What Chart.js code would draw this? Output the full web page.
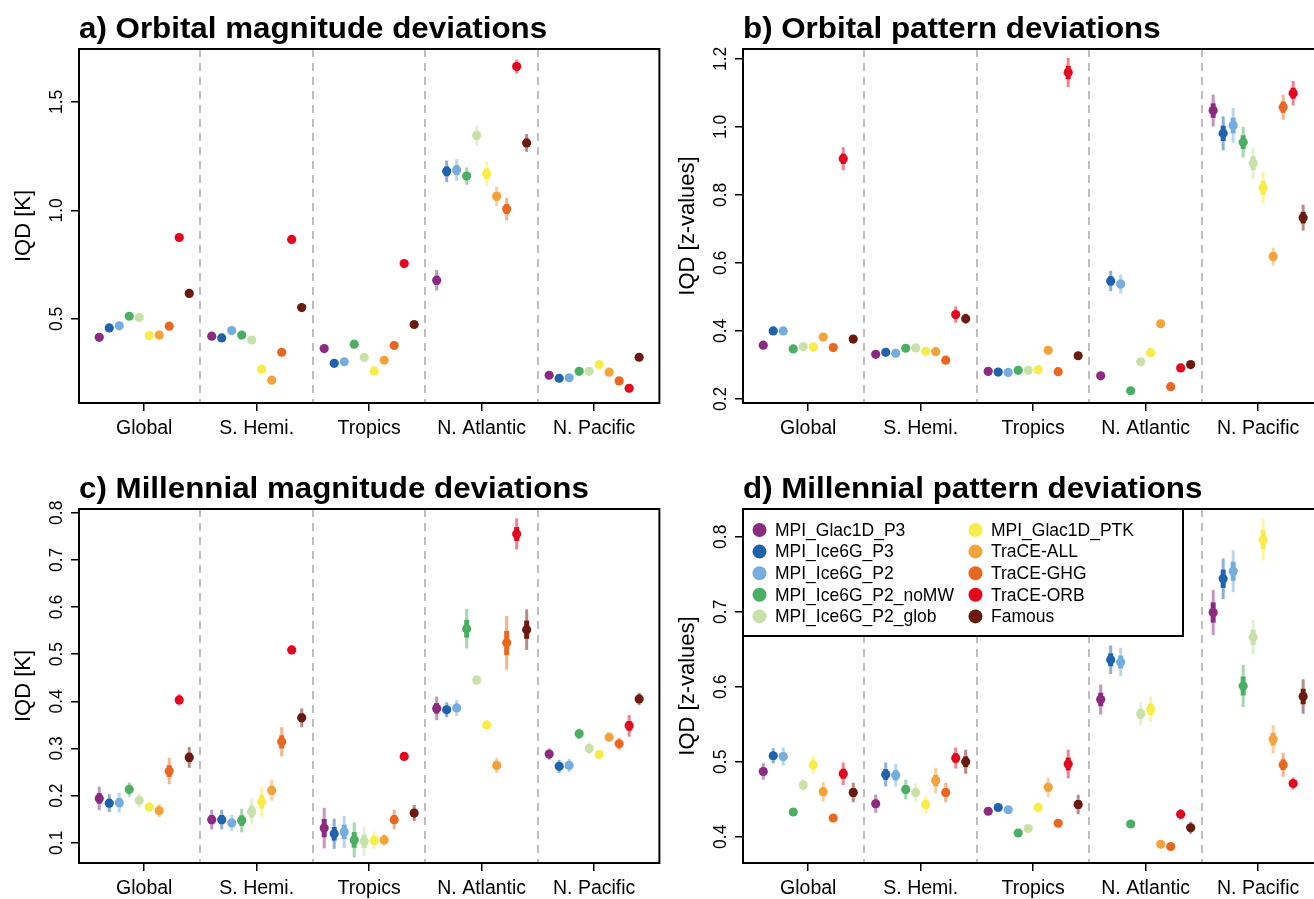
<!DOCTYPE html>
<html>
<head>
<meta charset="utf-8">
<title>IQD deviations</title>
<script src="https://cdn.jsdelivr.net/npm/chart.js@4.4.0/dist/chart.umd.min.js"></script>
<style>
    html, body { margin: 0; padding: 0; background: #fff; width: 1314px; height: 899px; overflow: hidden; }
    .panel { position: absolute; width: 664px; height: 440px; }
</style>
</head>
<body>
<div class="panel" style="left:0;top:0"><canvas id="panelA" width="664" height="440"></canvas></div>
<div class="panel" style="left:664px;top:0"><canvas id="panelB" width="664" height="440"></canvas></div>
<div class="panel" style="left:0;top:460px"><canvas id="panelC" width="664" height="440"></canvas></div>
<div class="panel" style="left:664px;top:460px"><canvas id="panelD" width="664" height="440"></canvas></div>

<script>
const regions = ['Global', 'S. Hemi.', 'Tropics', 'N. Atlantic', 'N. Pacific'];
const models = ['MPI_Glac1D_P3', 'MPI_Ice6G_P3', 'MPI_Ice6G_P2', 'MPI_Ice6G_P2_noMW', 'MPI_Ice6G_P2_glob',
                'MPI_Glac1D_PTK', 'TraCE-ALL', 'TraCE-GHG', 'TraCE-ORB', 'Famous'];
const modelColors = ['#8b2a80', '#1f62ae', '#76addf', '#4aaf62', '#c8e1a9',
                     '#f7ec48', '#f5a23b', '#ea6720', '#e2071d', '#6b1a10'];

// rows = models, columns = regions (Global, S. Hemi., Tropics, N. Atlantic, N. Pacific)
const orbitalMagnitude = [
    [0.415, 0.420, 0.363, 0.678, 0.240],
    [0.458, 0.412, 0.295, 1.180, 0.226],
    [0.468, 0.446, 0.302, 1.186, 0.228],
    [0.512, 0.425, 0.383, 1.158, 0.258],
    [0.506, 0.402, 0.322, 1.345, 0.258],
    [0.423, 0.268, 0.260, 1.169, 0.289],
    [0.425, 0.217, 0.309, 1.065, 0.254],
    [0.466, 0.346, 0.377, 1.006, 0.214],
    [0.875, 0.866, 0.755, 1.663, 0.180],
    [0.617, 0.552, 0.474, 1.311, 0.323]
];
const orbitalMagnitudeSpread = [
    [0, 0, 0, 0.047, 0],
    [0, 0, 0, 0.050, 0],
    [0, 0, 0, 0.050, 0],
    [0, 0, 0, 0.040, 0],
    [0, 0, 0, 0.044, 0],
    [0, 0, 0, 0.056, 0],
    [0, 0, 0, 0.045, 0],
    [0, 0, 0, 0.052, 0],
    [0, 0, 0, 0.032, 0],
    [0, 0, 0, 0.041, 0]
];

const orbitalPattern = [
    [0.358, 0.331, 0.281, 0.268, 1.048],
    [0.400, 0.337, 0.279, 0.547, 0.981],
    [0.400, 0.334, 0.278, 0.538, 1.004],
    [0.347, 0.349, 0.284, 0.224, 0.955],
    [0.354, 0.350, 0.284, 0.309, 0.893],
    [0.353, 0.340, 0.286, 0.336, 0.821],
    [0.382, 0.339, 0.343, 0.421, 0.619],
    [0.351, 0.314, 0.280, 0.236, 1.058],
    [0.906, 0.448, 1.160, 0.291, 1.099],
    [0.376, 0.436, 0.327, 0.301, 0.733]
];
const orbitalPatternSpread = [
    [0.005, 0, 0, 0, 0.047],
    [0.011, 0.006, 0, 0.030, 0.050],
    [0.011, 0.006, 0, 0.028, 0.051],
    [0, 0.006, 0, 0, 0.045],
    [0, 0.006, 0, 0, 0.046],
    [0, 0, 0, 0, 0.046],
    [0, 0, 0, 0.012, 0.026],
    [0, 0, 0, 0, 0.037],
    [0.034, 0.024, 0.043, 0.010, 0.036],
    [0, 0.015, 0, 0, 0.038]
];

const millennialMagnitude = [
    [0.194, 0.149, 0.131, 0.385, 0.288],
    [0.184, 0.149, 0.119, 0.382, 0.262],
    [0.185, 0.142, 0.123, 0.386, 0.264],
    [0.213, 0.147, 0.106, 0.554, 0.331],
    [0.190, 0.166, 0.103, 0.445, 0.300],
    [0.176, 0.187, 0.105, 0.350, 0.287],
    [0.168, 0.211, 0.106, 0.264, 0.324],
    [0.252, 0.314, 0.149, 0.524, 0.310],
    [0.403, 0.509, 0.283, 0.755, 0.348],
    [0.281, 0.365, 0.163, 0.552, 0.405]
];
const millennialMagnitudeSpread = [
    [0.025, 0.021, 0.043, 0.025, 0.012],
    [0.019, 0.021, 0.032, 0.016, 0.014],
    [0.021, 0.017, 0.034, 0.017, 0.014],
    [0.015, 0.025, 0.037, 0.042, 0.011],
    [0.015, 0.028, 0.031, 0.011, 0.012],
    [0.010, 0.032, 0.019, 0, 0.005],
    [0.014, 0.022, 0.012, 0.016, 0.005],
    [0.028, 0.031, 0.021, 0.057, 0.013],
    [0.012, 0, 0, 0.033, 0.023],
    [0.022, 0.020, 0.017, 0.043, 0.013]
];

const millennialPattern = [
    [0.487, 0.444, 0.434, 0.583, 0.699],
    [0.508, 0.483, 0.439, 0.636, 0.744],
    [0.507, 0.482, 0.436, 0.633, 0.754],
    [0.433, 0.463, 0.405, 0.417, 0.601],
    [0.469, 0.459, 0.411, 0.564, 0.666],
    [0.496, 0.443, 0.439, 0.570, 0.796],
    [0.460, 0.475, 0.466, 0.390, 0.530],
    [0.425, 0.459, 0.418, 0.387, 0.496],
    [0.484, 0.505, 0.497, 0.430, 0.471],
    [0.459, 0.500, 0.443, 0.412, 0.587]
];
const millennialPatternSpread = [
    [0.011, 0.012, 0.004, 0.020, 0.030],
    [0.010, 0.016, 0.004, 0.019, 0.027],
    [0.012, 0.015, 0.003, 0.019, 0.028],
    [0.003, 0.013, 0.002, 0.003, 0.028],
    [0.008, 0.012, 0.002, 0.015, 0.023],
    [0.012, 0.012, 0.007, 0.017, 0.028],
    [0.013, 0.017, 0.013, 0.004, 0.019],
    [0.004, 0.013, 0.005, 0.003, 0.016],
    [0.015, 0.014, 0.019, 0.007, 0.008],
    [0.013, 0.016, 0.013, 0.008, 0.023]
];

const orbitalMagnitudeTicks = [0.5, 1.0, 1.5];
const orbitalPatternTicks = [0.2, 0.4, 0.6, 0.8, 1.0, 1.2];
const millennialMagnitudeTicks = [0.1, 0.2, 0.3, 0.4, 0.5, 0.6, 0.7, 0.8];
const millennialPatternTicks = [0.4, 0.5, 0.6, 0.7, 0.8];

const FONT = "'Liberation Sans', Arial, Helvetica, sans-serif";

function withAlpha(hex, alpha) {
    const n = parseInt(hex.slice(1), 16);
    return `rgba(${(n >> 16) & 255}, ${(n >> 8) & 255}, ${n & 255}, ${alpha})`;
}

/**
 * R-style decorations: dashed region separators, error bars,
 * plot box, rotated y tick labels, panel title and optional legend
 */
const rStylePlugin = {
    id: 'rStyle',
    beforeDatasetsDraw(chart, args, opts) {
        const { ctx, chartArea: a, scales: { x, y } } = chart;
        ctx.save();

        // dashed separators between regions
        ctx.strokeStyle = '#bebebe';
        ctx.lineWidth = 2;
        ctx.setLineDash([8, 6]);
        for (let i = 1; i < regions.length; i++) {
            const px = Math.round(x.getPixelForValue(i + 0.5));
            ctx.beginPath();
            ctx.moveTo(px, a.top);
            ctx.lineTo(px, a.bottom);
            ctx.stroke();
        }
        ctx.setLineDash([]);

        // error bars: light outer range, darker inner range
        chart.data.datasets.forEach((ds, m) => {
            ds.data.forEach(pt => {
                if (!pt.spread) return;
                const px = x.getPixelForValue(pt.x);
                ctx.strokeStyle = withAlpha(modelColors[m], 0.5);
                ctx.lineWidth = 3;
                ctx.beginPath();
                ctx.moveTo(px, y.getPixelForValue(pt.y - pt.spread));
                ctx.lineTo(px, y.getPixelForValue(pt.y + pt.spread));
                ctx.stroke();
                ctx.strokeStyle = modelColors[m];
                ctx.lineWidth = 5;
                ctx.beginPath();
                ctx.moveTo(px, y.getPixelForValue(pt.y - pt.spread * 0.45));
                ctx.lineTo(px, y.getPixelForValue(pt.y + pt.spread * 0.45));
                ctx.stroke();
            });
        });
        ctx.restore();
    },
    afterDraw(chart, args, opts) {
        const { ctx, chartArea: a, scales: { y } } = chart;
        ctx.save();

        // plot box
        ctx.strokeStyle = '#000';
        ctx.lineWidth = 2;
        ctx.strokeRect(a.left, a.top, a.right - a.left, a.bottom - a.top);

        // y tick labels, parallel to the axis
        ctx.fillStyle = '#000';
        ctx.font = `17.5px ${FONT}`;
        ctx.textAlign = 'center';
        ctx.textBaseline = 'middle';
        opts.yTicks.forEach(v => {
            ctx.save();
            ctx.translate(a.left - 22.5, y.getPixelForValue(v));
            ctx.scale(1.08, 1);
            ctx.rotate(-Math.PI / 2);
            ctx.fillText(v.toFixed(1), 0, 0);
            ctx.restore();
        });

        // panel title
        ctx.save();
        ctx.font = `bold 29px ${FONT}`;
        ctx.textAlign = 'left';
        ctx.textBaseline = 'alphabetic';
        ctx.translate(a.left, a.top - 11);
        ctx.scale(1.08, 1);
        ctx.fillText(opts.title, 0, 0);
        ctx.restore();

        // legend in the top-left corner
        if (opts.legend) {
            const w = 440, h = 127;
            ctx.fillStyle = '#fff';
            ctx.fillRect(a.left, a.top, w, h);
            ctx.strokeStyle = '#000';
            ctx.lineWidth = 2;
            ctx.strokeRect(a.left, a.top, w, h);
            ctx.font = `17.5px ${FONT}`;
            ctx.textAlign = 'left';
            ctx.textBaseline = 'middle';
            chart.data.datasets.forEach((ds, m) => {
                const col = Math.floor(m / 5);
                const row = m % 5;
                const cy = a.top + 21 + row * 21.6;
                const cx = a.left + 16.5 + col * 216;
                ctx.fillStyle = modelColors[m];
                ctx.beginPath();
                ctx.arc(cx, cy, 7, 0, Math.PI * 2);
                ctx.fill();
                ctx.fillStyle = '#000';
                ctx.fillText(ds.label, cx + 15.5, cy + 1);
            });
        }
        ctx.restore();
    }
};

function buildDatasets(values, spread) {
    return models.map((name, m) => ({
        label: name,
        data: regions.map((_, r) => ({
            x: r + 1 - 0.4 + m * 0.8 / (models.length - 1),
            y: values[m][r],
            spread: spread[m][r]
        })),
        backgroundColor: modelColors[m],
        borderWidth: 0,
        pointRadius: 4.6,
        pointBorderWidth: 0,
        showLine: false
    }));
}

function drawPanel(canvasId, cfg) {
    const ctx = document.getElementById(canvasId).getContext('2d');
    return new Chart(ctx, {
        type: 'scatter',
        data: { datasets: buildDatasets(cfg.values, cfg.spread) },
        plugins: [rStylePlugin],
        options: {
            responsive: false,
            animation: false,
            events: [],
            layout: { padding: { top: 49, left: 0, right: 4, bottom: 0 } },
            plugins: {
                legend: { display: false },
                tooltip: { enabled: false },
                rStyle: { title: cfg.title, yTicks: cfg.yTicks, legend: !!cfg.legend }
            },
            scales: {
                x: {
                    type: 'linear',
                    min: 0.42,
                    max: 5.58,
                    afterBuildTicks: scale => {
                        scale.ticks = regions.map((_, i) => ({ value: i + 1 }));
                    },
                    afterFit: scale => { scale.height = 37; },
                    border: { display: false },
                    grid: { drawOnChartArea: false, drawTicks: true, tickLength: 8, color: '#000', lineWidth: 1.5 },
                    ticks: {
                        autoSkip: false,
                        maxRotation: 0,
                        padding: 6,
                        color: '#000',
                        font: { family: FONT, size: 19.5 },
                        callback: value => regions[value - 1] || ''
                    }
                },
                y: {
                    type: 'linear',
                    min: cfg.yMin,
                    max: cfg.yMax,
                    afterBuildTicks: scale => {
                        scale.ticks = cfg.yTicks.map(v => ({ value: v }));
                    },
                    afterFit: scale => { scale.width = 79; },
                    border: { display: false },
                    grid: { drawOnChartArea: false, drawTicks: true, tickLength: 8, color: '#000', lineWidth: 1.5 },
                    ticks: { display: false },
                    title: {
                        display: true,
                        text: cfg.yTitle,
                        color: '#000',
                        font: { family: FONT, size: 22 },
                        padding: { top: 11, bottom: 0 }
                    }
                }
            }
        }
    });
}

drawPanel('panelA', {
    title: 'a) Orbital magnitude deviations',
    yTitle: 'IQD [K]',
    values: orbitalMagnitude,
    spread: orbitalMagnitudeSpread,
    yMin: 0.112, yMax: 1.744,
    yTicks: orbitalMagnitudeTicks
});

drawPanel('panelB', {
    title: 'b) Orbital pattern deviations',
    yTitle: 'IQD [z-values]',
    values: orbitalPattern,
    spread: orbitalPatternSpread,
    yMin: 0.188, yMax: 1.229,
    yTicks: orbitalPatternTicks
});

drawPanel('panelC', {
    title: 'c) Millennial magnitude deviations',
    yTitle: 'IQD [K]',
    values: millennialMagnitude,
    spread: millennialMagnitudeSpread,
    yMin: 0.057, yMax: 0.808,
    yTicks: millennialMagnitudeTicks
});

drawPanel('panelD', {
    title: 'd) Millennial pattern deviations',
    yTitle: 'IQD [z-values]',
    values: millennialPattern,
    spread: millennialPatternSpread,
    yMin: 0.365, yMax: 0.837,
    yTicks: millennialPatternTicks,
    legend: true
});
</script>
</body>
</html>
